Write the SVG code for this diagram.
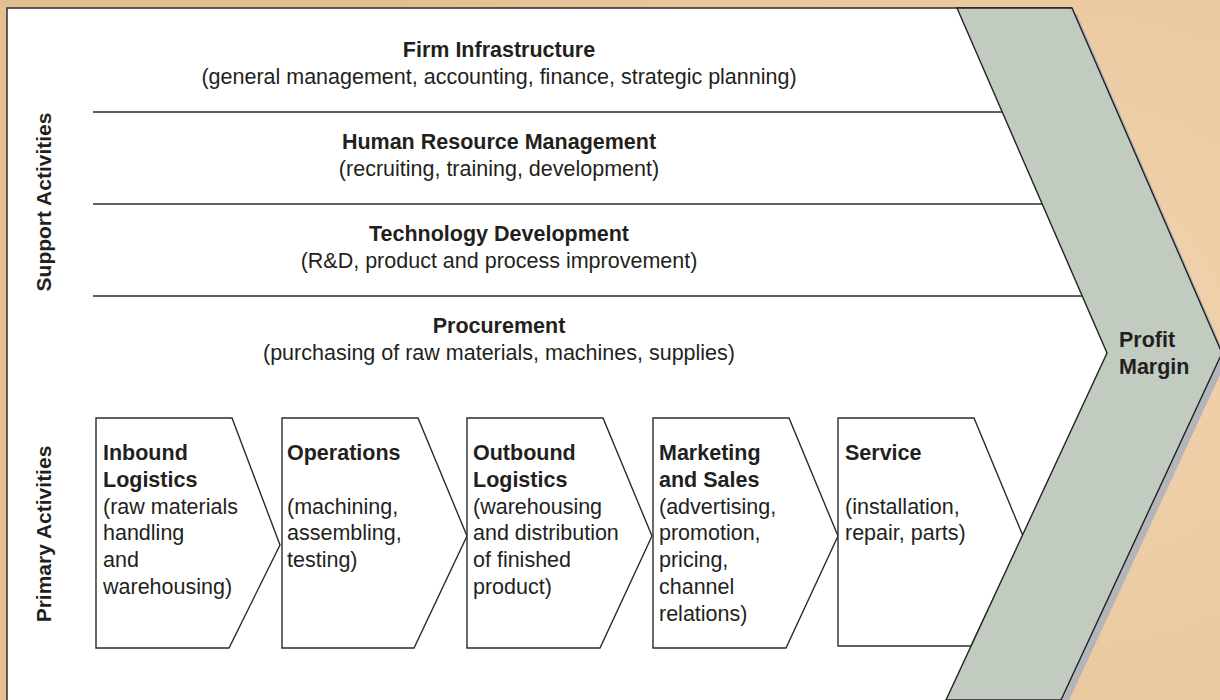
<svg xmlns="http://www.w3.org/2000/svg" width="1220" height="700" viewBox="0 0 1220 700">
  <defs>
    <radialGradient id="bgGrad" cx="1080" cy="330" r="760" gradientUnits="userSpaceOnUse">
      <stop offset="0" stop-color="#f0d3ae"/>
      <stop offset="1" stop-color="#e5bf91"/>
    </radialGradient>
    <style>
      .txt { font-family: "Liberation Sans", Arial, Helvetica, sans-serif; fill: #231f20; }
      .head { font-size: 21.5px; font-weight: bold; }
      .body { font-size: 21.5px; }
      .side { font-size: 21px; font-weight: bold; }
      .rule { stroke: #2e2e2e; stroke-width: 1.5; fill: none; }
      .box { fill: #ffffff; stroke: #2b2b2b; stroke-width: 1.4; stroke-linejoin: miter; }
      .mid { text-anchor: middle; }
    </style>
  </defs>

  <!-- backdrop -->
  <rect x="0" y="0" width="1220" height="700" fill="url(#bgGrad)"/>

  <!-- drop shadow of the margin band -->
  <polygon points="962,14 1077,14 1227,360 1066,707 949,707 1112,360" fill="#b4b5bb"/>

  <!-- white panel -->
  <polygon points="7,8 1072,8 1222,353 1061,700 7,700" fill="#ffffff"/>
  <polyline points="7,700 7,8 1072,8" class="rule" stroke-width="1.6"/>

  <!-- support activity separators -->
  <g id="separators">
    <line x1="93" y1="112" x2="1010" y2="112" class="rule"/>
    <line x1="93" y1="204" x2="1050" y2="204" class="rule"/>
    <line x1="93" y1="296" x2="1090" y2="296" class="rule"/>
  </g>

  <!-- side labels -->
  <g id="label-support">
    <text class="txt side mid" transform="translate(51,202) rotate(-90)">Support Activities</text>
  </g>
  <g id="label-primary">
    <text class="txt side mid" transform="translate(51,534) rotate(-90)">Primary Activities</text>
  </g>

  <!-- support activities -->
  <g id="firm-infrastructure">
    <text class="txt head mid" x="499" y="57">Firm Infrastructure</text>
    <text class="txt body mid" x="499" y="84">(general management, accounting, finance, strategic planning)</text>
  </g>
  <g id="human-resource-management">
    <text class="txt head mid" x="499" y="149">Human Resource Management</text>
    <text class="txt body mid" x="499" y="176">(recruiting, training, development)</text>
  </g>
  <g id="technology-development">
    <text class="txt head mid" x="499" y="241">Technology Development</text>
    <text class="txt body mid" x="499" y="268">(R&amp;D, product and process improvement)</text>
  </g>
  <g id="procurement">
    <text class="txt head mid" x="499" y="333">Procurement</text>
    <text class="txt body mid" x="499" y="360">(purchasing of raw materials, machines, supplies)</text>
  </g>

  <!-- primary activities -->
  <g id="inbound-logistics">
    <polygon class="box" points="96,418 232,418 280,545 229,648 96,648"/>
    <text class="txt head" x="103" y="460">Inbound</text>
    <text class="txt head" x="103" y="486.8">Logistics</text>
    <text class="txt body" x="103" y="513.6">(raw materials</text>
    <text class="txt body" x="103" y="540.4">handling</text>
    <text class="txt body" x="103" y="567.2">and</text>
    <text class="txt body" x="103" y="594">warehousing)</text>
  </g>
  <g id="operations">
    <polygon class="box" points="282,418 418,418 467,536 414,648 282,648"/>
    <text class="txt head" x="287" y="460">Operations</text>
    <text class="txt body" x="287" y="513.6">(machining,</text>
    <text class="txt body" x="287" y="540.4">assembling,</text>
    <text class="txt body" x="287" y="567.2">testing)</text>
  </g>
  <g id="outbound-logistics">
    <polygon class="box" points="467,418 603,418 652,536 600,648 467,648"/>
    <text class="txt head" x="473" y="460">Outbound</text>
    <text class="txt head" x="473" y="486.8">Logistics</text>
    <text class="txt body" x="473" y="513.6">(warehousing</text>
    <text class="txt body" x="473" y="540.4">and distribution</text>
    <text class="txt body" x="473" y="567.2">of finished</text>
    <text class="txt body" x="473" y="594">product)</text>
  </g>
  <g id="marketing-and-sales">
    <polygon class="box" points="653,418 789,418 838,536 786,648 653,648"/>
    <text class="txt head" x="659" y="460">Marketing</text>
    <text class="txt head" x="659" y="486.8">and Sales</text>
    <text class="txt body" x="659" y="513.6">(advertising,</text>
    <text class="txt body" x="659" y="540.4">promotion,</text>
    <text class="txt body" x="659" y="567.2">pricing,</text>
    <text class="txt body" x="659" y="594">channel</text>
    <text class="txt body" x="659" y="620.8">relations)</text>
  </g>
  <g id="service">
    <polygon class="box" points="838,418 974,418 1023,536 971,646 838,646"/>
    <text class="txt head" x="845" y="460">Service</text>
    <text class="txt body" x="845" y="513.6">(installation,</text>
    <text class="txt body" x="845" y="540.4">repair, parts)</text>
  </g>

  <!-- profit margin band -->
  <g id="profit-margin">
    <polygon points="957,8 1072,8 1222,353 1061,700 946,700 1107,353" fill="#c1cbc0" stroke="#222222" stroke-width="1.4" stroke-linejoin="miter"/>
    <text class="txt head" x="1119" y="347">Profit</text>
    <text class="txt head" x="1119" y="374">Margin</text>
  </g>
</svg>
